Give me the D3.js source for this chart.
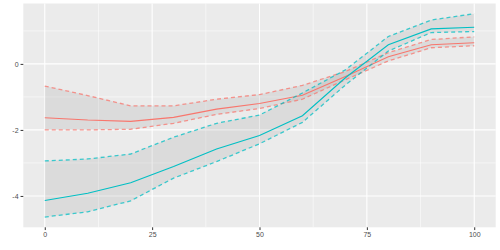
<!DOCTYPE html>
<html>
<head>
<meta charset="utf-8">
<script src="https://cdn.jsdelivr.net/npm/d3@7"></script>
<style>
  body { margin: 0; background: #fff; }
  svg { display: block; }
</style>
</head>
<body>
<svg id="chart"></svg>
<script>
// Data
const xs = [0, 10, 20, 30, 40, 50, 60, 70, 80, 90, 100];
const redMean  = [-1.63, -1.70, -1.74, -1.62, -1.37, -1.20, -0.95, -0.38, 0.22, 0.58, 0.64];
const redLower = [-2.00, -2.00, -1.98, -1.80, -1.53, -1.35, -1.07, -0.48, 0.09, 0.49, 0.55];
const redUpper = [-0.67, -0.96, -1.27, -1.27, -1.07, -0.93, -0.65, -0.23, 0.34, 0.74, 0.82];
const tealMean  = [-4.14, -3.92, -3.60, -3.11, -2.58, -2.17, -1.57, -0.42, 0.58, 1.06, 1.11];
const tealLower = [-4.64, -4.48, -4.15, -3.46, -2.96, -2.42, -1.77, -0.64, 0.39, 0.95, 0.98];
const tealUpper = [-2.94, -2.88, -2.73, -2.22, -1.80, -1.55, -0.88, -0.18, 0.83, 1.33, 1.52];
const xTicks = [0, 25, 50, 75, 100];
const yTicks = [-4, -2, 0];

const width = 500, height = 250;
const margin = { top: 3.5, right: 4.3, bottom: 22.7, left: 23.3 };

const svg = d3.select("#chart")
    .attr("width", width)
    .attr("height", height);

// Scales (ggplot-style 5% expansion)
const xScale = d3.scaleLinear()
    .domain([-5, 105])
    .range([margin.left, width - margin.right]);

const yScale = d3.scaleLinear()
    .domain([-4.95, 1.83])
    .range([height - margin.bottom, margin.top]);

// Panel background
svg.append("rect")
    .attr("x", margin.left)
    .attr("y", margin.top)
    .attr("width", width - margin.left - margin.right)
    .attr("height", height - margin.top - margin.bottom)
    .attr("fill", "#ebebeb");

// Minor grid
const grid = svg.append("g");
[12.5, 37.5, 62.5, 87.5].forEach(v => {
    grid.append("line")
        .attr("x1", xScale(v)).attr("x2", xScale(v))
        .attr("y1", margin.top).attr("y2", height - margin.bottom)
        .attr("stroke", "#fff").attr("stroke-width", 0.55);
});
[-3, -1, 1].forEach(v => {
    grid.append("line")
        .attr("x1", margin.left).attr("x2", width - margin.right)
        .attr("y1", yScale(v)).attr("y2", yScale(v))
        .attr("stroke", "#fff").attr("stroke-width", 0.55);
});
// Major grid
xTicks.forEach(v => {
    grid.append("line")
        .attr("x1", xScale(v)).attr("x2", xScale(v))
        .attr("y1", margin.top).attr("y2", height - margin.bottom)
        .attr("stroke", "#fff").attr("stroke-width", 1.1);
});
yTicks.forEach(v => {
    grid.append("line")
        .attr("x1", margin.left).attr("x2", width - margin.right)
        .attr("y1", yScale(v)).attr("y2", yScale(v))
        .attr("stroke", "#fff").attr("stroke-width", 1.1);
});

const groups = [
    { color: "#F8766D", mean: redMean, lower: redLower, upper: redUpper },
    { color: "#00BFC4", mean: tealMean, lower: tealLower, upper: tealUpper }
];

// Ribbons
const area = d3.area()
    .x(d => xScale(d.x))
    .y0(d => yScale(d.lo))
    .y1(d => yScale(d.hi));

groups.forEach(g => {
    const rows = xs.map((x, i) => ({ x: x, lo: g.lower[i], hi: g.upper[i] }));
    svg.append("path")
        .datum(rows)
        .attr("fill", "#999999")
        .attr("fill-opacity", 0.2)
        .attr("d", area);
});

// Lines
const line = d3.line()
    .x(d => xScale(d.x))
    .y(d => yScale(d.y));

groups.forEach(g => {
    [g.lower, g.upper].forEach(vals => {
        svg.append("path")
            .datum(xs.map((x, i) => ({ x: x, y: vals[i] })))
            .attr("fill", "none")
            .attr("stroke", g.color)
            .attr("stroke-opacity", 0.75)
            .attr("stroke-width", 1.3)
            .attr("stroke-dasharray", "4,3")
            .attr("d", line);
    });
    svg.append("path")
        .datum(xs.map((x, i) => ({ x: x, y: g.mean[i] })))
        .attr("fill", "none")
        .attr("stroke", g.color)
        .attr("stroke-width", 1.1)
        .attr("d", line);
});

// Axes
const xAxis = svg.append("g")
    .attr("transform", `translate(0,${height - margin.bottom})`)
    .call(d3.axisBottom(xScale).tickValues(xTicks).tickSize(2.75).tickPadding(2).tickFormat(d3.format("d")));

const yAxis = svg.append("g")
    .attr("transform", `translate(${margin.left},0)`)
    .call(d3.axisLeft(yScale).tickValues(yTicks).tickSize(2.75).tickPadding(2).tickFormat(d => d < 0 ? "-" + Math.abs(d) : d));

[xAxis, yAxis].forEach(ax => {
    ax.select(".domain").remove();
    ax.selectAll(".tick line").attr("stroke", "#333333").attr("stroke-width", 1);
    ax.selectAll(".tick text")
        .attr("fill", "#4d4d4d")
        .style("font-family", "'Liberation Sans', Arial, sans-serif")
        .style("font-size", "7px");
});
</script>
</body>
</html>
